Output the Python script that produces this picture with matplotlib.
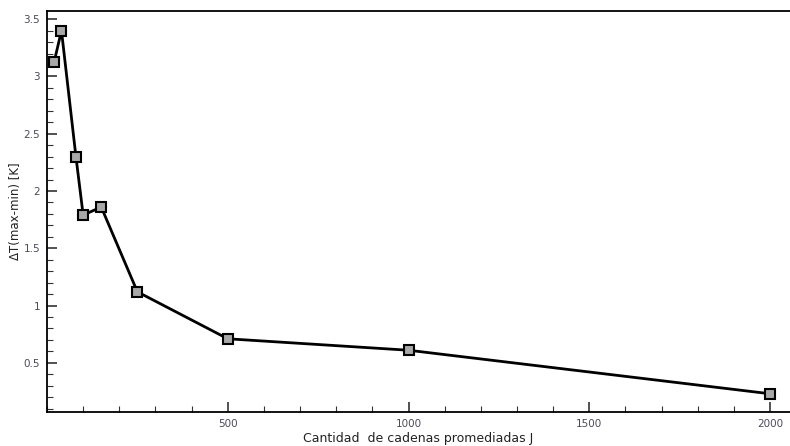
import matplotlib
matplotlib.use("Agg")
import matplotlib.pyplot as plt
from matplotlib.ticker import MultipleLocator

# Data
cadenas = [20, 40, 80, 100, 150, 250, 500, 1000, 2000]
delta_t = [3.13, 3.40, 2.30, 1.79, 1.86, 1.12, 0.71, 0.61, 0.23]

fig = plt.figure(figsize=(7.9, 4.46), dpi=100)
ax = fig.add_axes([0.0595, 0.076, 0.9405, 0.899])

ax.plot(cadenas, delta_t, color="black", linewidth=2.0, marker="s",
        markersize=6.5, markerfacecolor="#a8a8a8", markeredgecolor="black",
        markeredgewidth=1.5, zorder=3)

ax.set_xlim(0, 2055)
ax.set_ylim(0.07, 3.57)

ax.xaxis.set_major_locator(MultipleLocator(500))
ax.xaxis.set_minor_locator(MultipleLocator(100))
ax.yaxis.set_major_locator(MultipleLocator(0.5))
ax.yaxis.set_minor_locator(MultipleLocator(0.1))

ax.set_xticks([500, 1000, 1500, 2000])
ax.set_yticks([0.5, 1, 1.5, 2, 2.5, 3, 3.5])
ax.set_yticklabels(["0.5", "1", "1.5", "2", "2.5", "3", "3.5"])

ax.tick_params(which="both", direction="in", top=False, right=False,
               labelsize=7.5, labelcolor="#4a4a5a", color="#333333")
ax.tick_params(which="major", length=7, width=1.2, pad=5)
ax.tick_params(which="minor", length=4, width=0.8)

ax.spines["right"].set_visible(False)
for s in ["left", "bottom", "top"]:
    ax.spines[s].set_linewidth(1.3)

ax.set_xlabel("Cantidad  de cadenas promediadas J", fontsize=9, color="#222222", labelpad=2)
ax.set_ylabel("\u0394T(max-min) [K]", fontsize=8.5, color="#222222", labelpad=1)

fig.savefig("out.png", dpi=100)
